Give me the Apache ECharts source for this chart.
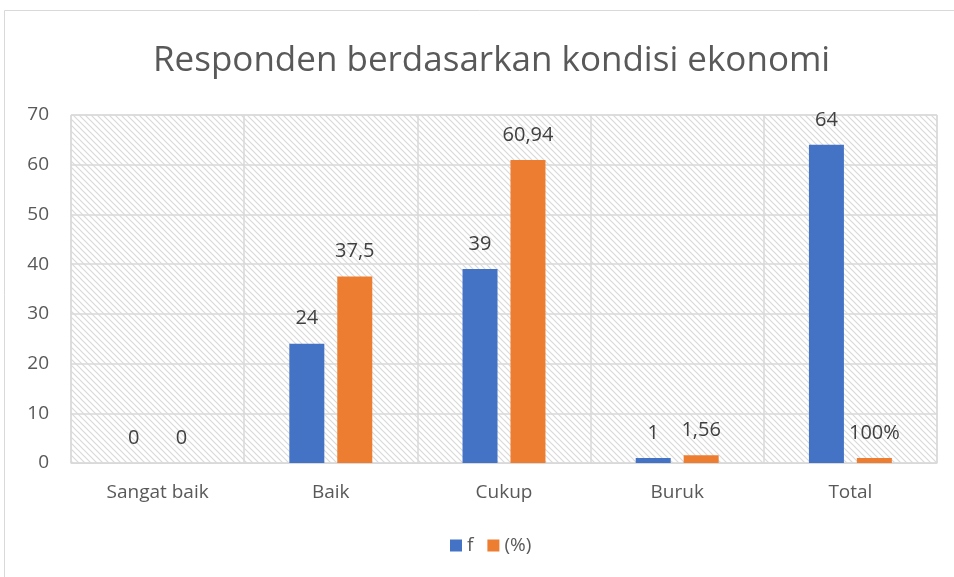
<!DOCTYPE html>
<html>
<head>
<meta charset="utf-8">
<script src="https://cdn.jsdelivr.net/npm/echarts@6/dist/echarts.min.js"></script>
<style>
  html, body { margin: 0; padding: 0; background: #fff; }
  #chart { width: 954px; height: 577px; }
</style>
</head>
<body>
<div id="chart"></div>
<script>
// data
const categories = ["Sangat baik", "Baik", "Cukup", "Buruk", "Total"];
const fValues = [0, 24, 39, 1, 64];
const pctValues = [0, 37.5, 60.94, 1.56, 1];
const pctLabels = ["0", "37,5", "60,94", "1,56", "100%"];
const yTicks = [0, 10, 20, 30, 40, 50, 60, 70];

// hatched background like the Excel plot area
function makeHatch() {
  const c = document.createElement("canvas");
  c.width = 6;
  c.height = 6;
  const ctx = c.getContext("2d");
  ctx.fillStyle = "#ffffff";
  ctx.fillRect(0, 0, 6, 6);
  ctx.strokeStyle = "#d9d9d9";
  ctx.lineWidth = 1.2;
  ctx.beginPath();
  ctx.moveTo(-1, -1);
  ctx.lineTo(7, 7);
  ctx.moveTo(-1, 5);
  ctx.lineTo(1, 7);
  ctx.moveTo(5, -1);
  ctx.lineTo(7, 1);
  ctx.stroke();
  return c;
}

const chart = echarts.init(document.getElementById("chart"));
const labelStyle = {
  show: true,
  position: "top",
  distance: 15,
  color: "#404040",
  fontSize: 20,
  fontFamily: "Open Sans"
};

const option = {
  backgroundColor: "#fff",
  textStyle: { fontFamily: "Open Sans" },
  graphic: [
    {
      type: "rect",
      shape: { x: 4.5, y: 10.5, width: 960, height: 600 },
      style: { fill: "none", stroke: "#d9d9d9", lineWidth: 1 },
      silent: true
    }
  ],
  title: {
    text: "Responden berdasarkan kondisi ekonomi",
    left: 148,
    top: 39,
    textStyle: { color: "#595959", fontSize: 35, fontWeight: "normal", fontFamily: "Open Sans" }
  },
  legend: {
    bottom: 17,
    left: 445,
    itemWidth: 12,
    itemHeight: 12,
    itemGap: 14,
    icon: "rect",
    textStyle: { color: "#595959", fontSize: 19 },
    data: ["f", "(%)"]
  },
  grid: {
    left: 71,
    right: 17,
    top: 115,
    bottom: 114,
    show: true,
    backgroundColor: { image: makeHatch(), repeat: "repeat" },
    borderColor: "#d9d9d9",
    borderWidth: 1
  },
  xAxis: {
    type: "category",
    data: categories,
    axisLine: { lineStyle: { color: "#d9d9d9" } },
    axisTick: { show: false },
    splitLine: { show: true, lineStyle: { color: "#d9d9d9", width: 1.5 } },
    axisLabel: { color: "#595959", fontSize: 19, margin: 20 }
  },
  yAxis: {
    type: "value",
    min: yTicks[0],
    max: yTicks[yTicks.length - 1],
    interval: 10,
    axisLine: { show: false },
    axisTick: { show: false },
    splitLine: { lineStyle: { color: "#d9d9d9", width: 1.5 } },
    axisLabel: { color: "#595959", fontSize: 19, margin: 22 }
  },
  series: [
    {
      name: "f",
      type: "bar",
      data: fValues,
      barWidth: 35,
      barGap: "37%",
      itemStyle: { color: "#4472c4" },
      label: labelStyle
    },
    {
      name: "(%)",
      type: "bar",
      data: pctValues,
      barWidth: 35,
      itemStyle: { color: "#ed7d31" },
      label: Object.assign({}, labelStyle, {
        formatter: function (p) { return pctLabels[p.dataIndex]; }
      })
    }
  ]
};
chart.setOption(option);
</script>
</body>
</html>
